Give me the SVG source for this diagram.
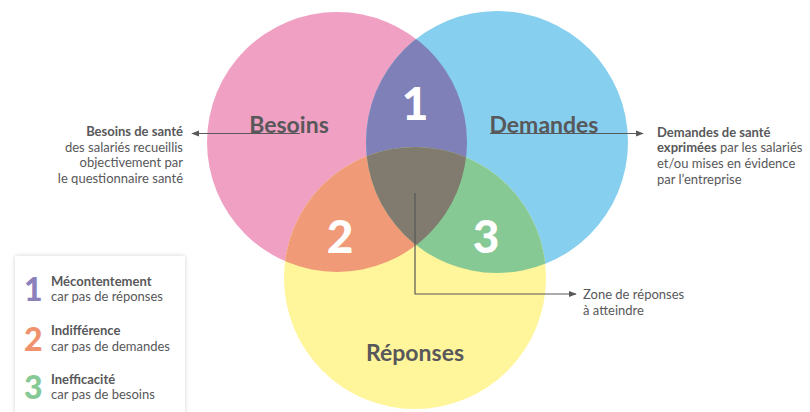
<svg xmlns="http://www.w3.org/2000/svg" width="810" height="412" viewBox="0 0 810 412">
<defs>
<style>
.lbl{font-family:Lato,"Open Sans",sans-serif;font-weight:bold;font-size:23px;fill:#58585a}
.num{font-family:Lato,"Open Sans",sans-serif;font-weight:900;font-size:46px;fill:#fff}
.t{font-family:Lato,"Open Sans",sans-serif;font-size:13px;fill:#58585a}
.b{font-weight:bold}
.ln{stroke:#58585a;stroke-width:1.2;fill:none}
.lnum{font-family:Lato,"Open Sans",sans-serif;font-weight:900;font-size:32px}
</style>
<marker id="ah" viewBox="0 0 10 10" refX="9" refY="5" markerWidth="8" markerHeight="8" orient="auto-start-reverse" markerUnits="userSpaceOnUse"><path d="M0,1 L10,5 L0,9 Z" fill="#58585a"/></marker>
<clipPath id="cP"><circle cx="337" cy="142" r="130"/></clipPath>
<clipPath id="cB"><circle cx="497" cy="142" r="131"/></clipPath>
<filter id="sh" x="-10%" y="-10%" width="120%" height="120%"><feDropShadow dx="0" dy="0" stdDeviation="2" flood-color="#000" flood-opacity="0.18"/></filter>
</defs>
<rect width="810" height="412" fill="#fff"/>
<g id="circles">
<circle id="besoins-circle" cx="337" cy="142" r="130" fill="#F0A0C3"/>
<circle id="demandes-circle" cx="497" cy="142" r="131" fill="#86CFEF"/>
<circle id="reponses-circle" cx="415" cy="278" r="131" fill="#FFF59B"/>
<circle cx="497" cy="142" r="131" fill="#8080B8" clip-path="url(#cP)"/>
<circle cx="415" cy="278" r="131" fill="#F09A78" clip-path="url(#cP)"/>
<circle cx="415" cy="278" r="131" fill="#87C995" clip-path="url(#cB)"/>
<g clip-path="url(#cP)"><circle cx="415" cy="278" r="131" fill="#807B6E" clip-path="url(#cB)"/></g>
</g>
<g id="zone1"><text class="num" x="415" y="120" text-anchor="middle">1</text></g>
<g id="zone2"><text class="num" x="340" y="253" text-anchor="middle">2</text></g>
<g id="zone3"><text class="num" x="486" y="253" text-anchor="middle">3</text></g>
<g id="connectors">
<path class="ln" d="M300,133.5 H192" marker-end="url(#ah)"/>
<path class="ln" d="M490,133.5 H643" marker-end="url(#ah)"/>
<path class="ln" d="M415,193 V294 H576" marker-end="url(#ah)"/>
</g>
<g id="besoins"><text class="lbl" x="289" y="133" text-anchor="middle">Besoins</text></g>
<g id="demandes"><text class="lbl" x="544" y="133" text-anchor="middle">Demandes</text></g>
<g id="reponses"><text class="lbl" x="415" y="361" text-anchor="middle">Réponses</text></g>
<g id="besoins-note" text-anchor="end">
<text class="t b" x="183" y="136">Besoins de santé</text>
<text class="t" x="183" y="152">des salariés recueillis</text>
<text class="t" x="183" y="167">objectivement par</text>
<text class="t" x="183" y="183">le questionnaire santé</text>
</g>
<g id="demandes-note">
<text class="t b" x="657" y="137">Demandes de santé</text>
<text class="t" x="657" y="152"><tspan class="b">exprimées</tspan> par les salariés</text>
<text class="t" x="657" y="168">et/ou mises en évidence</text>
<text class="t" x="657" y="184">par l’entreprise</text>
</g>
<g id="zone-note">
<text class="t" x="583" y="299">Zone de réponses</text>
<text class="t" x="583" y="315">à atteindre</text>
</g>
<g id="legend">
<rect x="15" y="256" width="170" height="170" fill="#fff" filter="url(#sh)"/>
<text class="lnum" x="24" y="301" fill="#8B82BC">1</text>
<text class="t b" x="51" y="286">Mécontentement</text>
<text class="t" x="51" y="301">car pas de réponses</text>
<text class="lnum" x="24" y="351" fill="#F0926E">2</text>
<text class="t b" x="51" y="335">Indifférence</text>
<text class="t" x="51" y="351">car pas de demandes</text>
<text class="lnum" x="24" y="399" fill="#86C996">3</text>
<text class="t b" x="51" y="384">Inefficacité</text>
<text class="t" x="51" y="399">car pas de besoins</text>
</g>
</svg>
